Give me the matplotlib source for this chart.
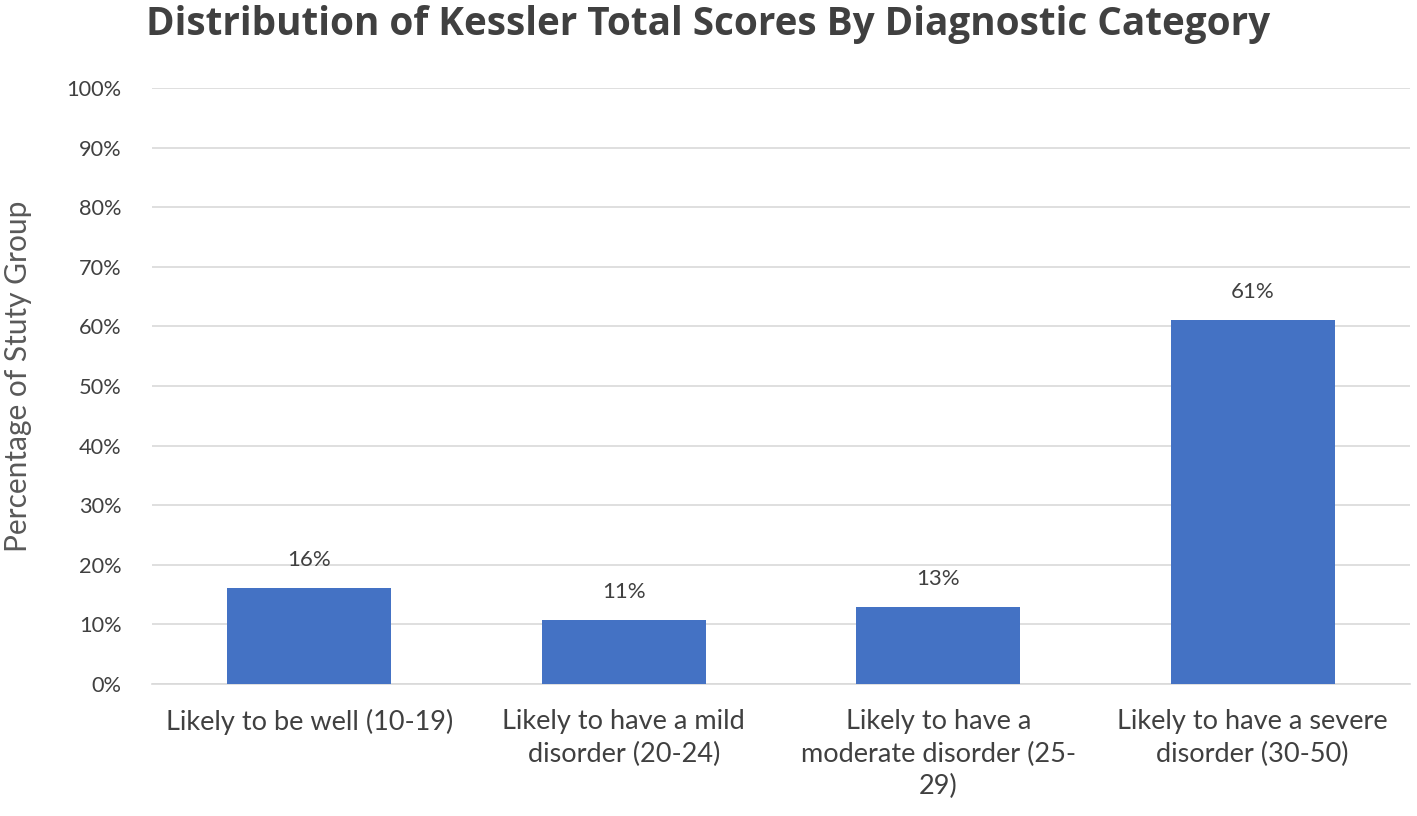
import matplotlib

matplotlib.use("Agg")
import matplotlib.pyplot as plt
from matplotlib.ticker import PercentFormatter

# data
categories = [
    "Likely to be well (10-19)",
    "Likely to have a mild\ndisorder (20-24)",
    "Likely to have a\nmoderate disorder (25-\n29)",
    "Likely to have a severe\ndisorder (30-50)",
]
values = [16.1, 10.7, 12.9, 61.1]
labels = ["16%", "11%", "13%", "61%"]
y_ticks = list(range(0, 101, 10))

BAR_COLOUR = "#4472C4"
TEXT_COLOUR = "#404040"

plt.rcParams["font.family"] = ["Lato", "DejaVu Sans"]

fig = plt.figure(figsize=(14.17, 8.16), dpi=100)
ax = fig.add_axes([152 / 1417, 1 - 684 / 816, (1410 - 152) / 1417, (684 - 88) / 816])

x = range(len(categories))
ax.bar(x, values, width=0.52, color=BAR_COLOUR, zorder=3)

for xi, v, lab in zip(x, values, labels):
    ax.annotate(lab, (xi, v), xytext=(0, 13), textcoords="offset points",
                ha="center", va="bottom", fontsize=16, color=TEXT_COLOUR)

ax.set_xlim(-0.5, len(categories) - 0.5)
ax.set_ylim(0, 100)
ax.set_yticks(y_ticks)
ax.yaxis.set_major_formatter(PercentFormatter(decimals=0))
ax.set_xticks(list(x))
ax.set_xticklabels(categories, fontsize=19.5, color=TEXT_COLOUR, va="top",
                   linespacing=1.38)
ax.tick_params(axis="y", labelsize=15.7, labelcolor=TEXT_COLOUR, length=0, pad=22)
ax.tick_params(axis="x", length=0, pad=18)

ax.grid(axis="y", color="#d9d9d9", linewidth=1.2, zorder=0)
for side in ("top", "right", "left"):
    ax.spines[side].set_visible(False)
ax.spines["bottom"].set_color("#d9d9d9")
ax.spines["bottom"].set_linewidth(1.2)

ax.set_ylabel("Percentage of Stuty Group", fontsize=21.5, color="#595959")
ax.yaxis.set_label_coords(-0.095, 0.517)

fig.text(0.5, 1 - 24 / 816, "Distribution of Kessler Total Scores By Diagnostic Category",
         ha="center", va="center", fontsize=27.8, fontweight="bold", color=TEXT_COLOUR,
         family=["Open Sans", "DejaVu Sans"])

fig.savefig("out.png", dpi=100)
